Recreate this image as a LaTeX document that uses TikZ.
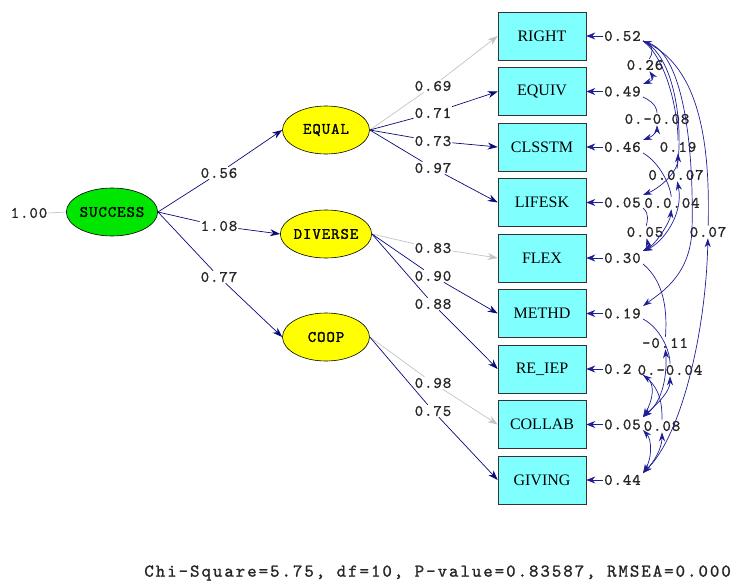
\documentclass[tikz,border=0pt]{standalone}
\usepackage{fontspec}
\usetikzlibrary{shapes.geometric,arrows.meta}
\newfontfamily\lmono[LetterSpace=6,FakeBold=1.2]{lmmono10-regular.otf}
\newfontfamily\lserif{Liberation Serif}
\newfontfamily\lfoot[LetterSpace=11,FakeBold=1.2]{lmmono10-regular.otf}
\definecolor{pathblue}{RGB}{30,30,150}
\definecolor{headblue}{RGB}{10,10,120}
\definecolor{boxcyan}{RGB}{128,255,255}
\definecolor{latyellow}{RGB}{255,255,0}
\definecolor{latgreen}{RGB}{0,230,0}
\definecolor{fixgray}{RGB}{195,195,195}
\tikzset{
  latent/.style={ellipse, draw=black, fill=latyellow, line width=0.6pt, minimum width=87pt, minimum height=48pt, inner sep=0pt, font=\lmono\fontsize{16}{19}\selectfont},
  obsbox/.style={rectangle, draw=black!80, fill=boxcyan, line width=0.6pt, minimum width=88pt, minimum height=48pt, inner sep=0pt, font=\lserif\fontsize{16}{19}\selectfont},
  num/.style={font=\lmono\fontsize{16}{19}\selectfont, inner sep=1pt, text=black!85},
  varnum/.style={num, anchor=west},
  tip/.style={-{Stealth[length=10pt,width=7pt]}},
  freepath/.style={draw=pathblue, line width=0.7pt, tip, headblue},
  fixpath/.style={draw=fixgray, line width=0.7pt, -{Stealth[length=10pt,width=7pt,fill=fixgray]}},
  covpath/.style={draw=pathblue, line width=0.7pt, {Stealth[length=9pt,width=6pt]}-{Stealth[length=9pt,width=6pt]}},
  varpath/.style={draw=pathblue, line width=0.7pt, -{Stealth[length=9pt,width=7pt]}}
}
\begin{document}
\begin{tikzpicture}[x=1pt,y=-1pt]
\path[use as bounding box] (0,0) rectangle (733,588);

% latent variables
\node[latent, fill=latgreen] (succ) at (112,212) {SUCCESS};
\node[latent] (equal) at (326,130) {EQUAL};
\node[latent] (diverse) at (326,234) {DIVERSE};
\node[latent] (coop) at (326,337) {COOP};

% observed variables
\node[obsbox] (right) at (542,36) {RIGHT};
\node[obsbox] (equiv) at (542,91.5) {EQUIV};
\node[obsbox] (clsstm) at (542,147) {CLSSTM};
\node[obsbox] (lifesk) at (542,202.5) {LIFESK};
\node[obsbox] (flex) at (542,258) {FLEX};
\node[obsbox] (methd) at (542,313.5) {METHD};
\node[obsbox] (reiep) at (542,369) {RE\_IEP};
\node[obsbox] (collab) at (542,424.5) {COLLAB};
\node[obsbox] (giving) at (542,480) {GIVING};

% variance of SUCCESS
\node[num] (s100) at (29,213) {1.00};
\draw[draw=fixgray, line width=0.7pt] (s100.east) -- (succ.west);

% structural paths
\node[num] (g56) at (219,173) {0.56};
\node[num] (g108) at (219,226) {1.08};
\node[num] (g77) at (219,277) {0.77};
\draw[freepath] (succ.east) -- (g56) -- (equal.west);
\draw[freepath] (succ.east) -- (g108) -- (diverse.west);
\draw[freepath] (succ.east) -- (g77) -- (coop.west);

% loadings
\node[num] (l69) at (433,86) {0.69};
\node[num] (l71) at (433,113) {0.71};
\node[num] (l73) at (433,141) {0.73};
\node[num] (l97) at (433,168) {0.97};
\node[num] (l83) at (433,248) {0.83};
\node[num] (l90) at (433,276) {0.90};
\node[num] (l88) at (433,304) {0.88};
\node[num] (l98) at (433,383) {0.98};
\node[num] (l75) at (433,411) {0.75};
\draw[fixpath] (equal.east) -- (l69) -- (right.west);
\draw[freepath] (equal.east) -- (l71) -- (equiv.west);
\draw[freepath] (equal.east) -- (l73) -- (clsstm.west);
\draw[freepath] (equal.east) -- (l97) -- (lifesk.west);
\draw[fixpath] (diverse.east) -- (l83) -- (flex.west);
\draw[freepath] (diverse.east) -- (l90) -- (methd.west);
\draw[freepath] (diverse.east) -- (l88) -- (reiep.west);
\draw[fixpath] (coop.east) -- (l98) -- (collab.west);
\draw[freepath] (coop.east) -- (l75) -- (giving.west);

% error variances
\node[varnum] (v1) at (603,36) {0.52};
\node[varnum] (v2) at (603,91.5) {0.49};
\node[varnum] (v3) at (603,147) {0.46};
\node[varnum] (v4) at (603,202.5) {0.05};
\node[varnum] (v5) at (603,258) {0.30};
\node[varnum] (v6) at (603,313.5) {0.19};
\node[varnum] (v7) at (603,369) {0.2};
\node[varnum] (v8) at (603,424.5) {0.05};
\node[varnum] (v9) at (603,480) {0.44};
\draw[varpath] (v1.west) -- (right.east);
\draw[varpath] (v2.west) -- (equiv.east);
\draw[varpath] (v3.west) -- (clsstm.east);
\draw[varpath] (v4.west) -- (lifesk.east);
\draw[varpath] (v5.west) -- (flex.east);
\draw[varpath] (v6.west) -- (methd.east);
\draw[varpath] (v7.west) -- (reiep.east);
\draw[varpath] (v8.west) -- (collab.east);
\draw[varpath] (v9.west) -- (giving.east);

% error covariance labels
\node[num] (c1) at (645,65) {0.26};
\node[num] (c2) at (657,119) {0.-0.08};
\node[num] (c3) at (678,147) {0.19};
\node[num] (c4) at (676,175) {0.0.07};
\node[num] (c5) at (672,203) {0.0.04};
\node[num] (c6) at (645,232) {0.05};
\node[num] (c7) at (708,232) {0.07};
\node[num] (c8) at (665,343) {-0.11};
\node[num] (c9) at (670,370) {0.-0.04};
\node[num] (c10) at (662,426) {0.08};

% attach points
\coordinate (b1) at (643,41);
\coordinate (t2) at (643,84);  \coordinate (b2) at (643,97);
\coordinate (t3) at (643,140); \coordinate (b3) at (643,153);
\coordinate (t4) at (643,195); \coordinate (b4) at (643,208);
\coordinate (t5) at (643,251); \coordinate (b5) at (643,264);
\coordinate (t6) at (643,306); \coordinate (b6) at (643,319);
\coordinate (t7) at (643,362); \coordinate (b7) at (643,375);
\coordinate (t8) at (643,417); \coordinate (b8) at (643,430);
\coordinate (t9) at (643,473);

% error covariances
\draw[covpath] (b1) .. controls (656,46) and (652,55) .. (c1) .. controls (652,75) and (656,79) .. (t2);
\draw[covpath] (b2) .. controls (656,103) and (657,110) .. (c2) .. controls (657,128) and (656,135) .. (t3);
\draw[covpath] (b1) .. controls (666,58) and (678,110) .. (c3) .. controls (678,172) and (660,188) .. (t4);
\draw[covpath] (b1) .. controls (674,55) and (684,125) .. (c4) .. controls (684,215) and (662,243) .. (t5);
\draw[covpath] (b3) .. controls (660,163) and (670,185) .. (c5) .. controls (670,222) and (656,244) .. (t5);
\draw[covpath] (b4) .. controls (650,214) and (647,222) .. (c6) .. controls (647,240) and (652,246) .. (t5);
\draw[covpath] (b1) .. controls (702,65) and (710,150) .. (c7) .. controls (706,330) and (682,435) .. (t9);
\draw[covpath] (b1) .. controls (684,55) and (694,150) .. (692,230) .. controls (690,275) and (662,292) .. (t6);
\draw[covpath] (b5) .. controls (666,283) and (667,315) .. (c8) .. controls (667,372) and (664,400) .. (t8);
\draw[covpath] (b6) .. controls (660,328) and (670,350) .. (c9) .. controls (670,392) and (657,404) .. (t8);
\draw[covpath] (b7) .. controls (655,384) and (653,400) .. (t8);
\draw[covpath] (b7) .. controls (662,388) and (662,408) .. (c10) .. controls (662,448) and (654,462) .. (t9);
\draw[covpath] (b8) .. controls (652,440) and (652,458) .. (t9);

% fit statistics
\node[font=\lfoot\fontsize{18}{21}\selectfont, inner sep=0pt, anchor=east, text=black!85] (fit) at (731,573) {Chi-Square=5.75, df=10, P-value=0.83587, RMSEA=0.000};
\end{tikzpicture}
\end{document}
